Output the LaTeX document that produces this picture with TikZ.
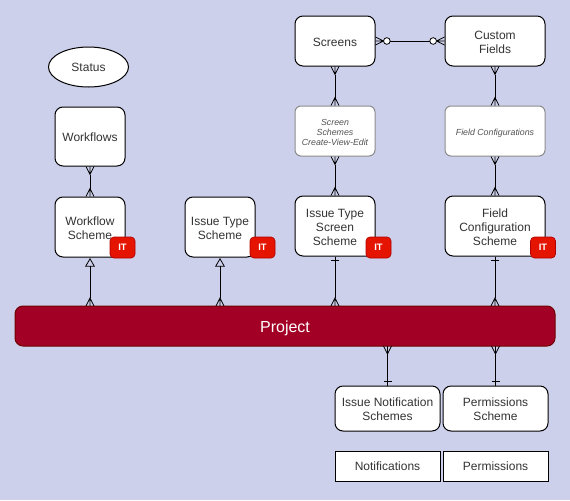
\documentclass[tikz,border=0pt]{standalone}
\usepackage{fontspec}
\setmainfont{Liberation Sans}
\usetikzlibrary{arrows.meta,shapes.geometric}
\definecolor{bgc}{HTML}{CCD0EB}
\definecolor{itred}{HTML}{E51400}
\definecolor{itedge}{HTML}{B20000}
\definecolor{prj}{HTML}{A20025}
\definecolor{prjedge}{HTML}{6F0000}
\definecolor{txt}{HTML}{333333}
\pgfdeclarearrow{
  name=crowf,
  setup code={\pgfarrowssettipend{0pt}\pgfarrowssetbackend{-6pt}\pgfarrowssetlineend{-6pt}\pgfarrowshullpoint{0pt}{3pt}\pgfarrowshullpoint{0pt}{-3pt}},
  drawing code={\pgfsetdash{}{0pt}\pgfsetlinewidth{0.6pt}
    \pgfpathmoveto{\pgfpoint{0pt}{3pt}}\pgfpathlineto{\pgfpoint{-6pt}{0pt}}\pgfpathlineto{\pgfpoint{0pt}{-3pt}}
    \pgfpathmoveto{\pgfpoint{0pt}{0pt}}\pgfpathlineto{\pgfpoint{-6pt}{0pt}}\pgfusepathqstroke},
  defaults={}
}
\pgfdeclarearrow{
  name=tria,
  setup code={\pgfarrowssettipend{0pt}\pgfarrowssetbackend{-6pt}\pgfarrowssetlineend{-6pt}\pgfarrowshullpoint{0pt}{0pt}\pgfarrowshullpoint{-6pt}{3.75pt}\pgfarrowshullpoint{-6pt}{-3.75pt}},
  drawing code={\pgfsetdash{}{0pt}\pgfsetlinewidth{0.6pt}
    \pgfpathmoveto{\pgfpoint{-1pt}{0pt}}\pgfpathlineto{\pgfpoint{-6.5pt}{3.2pt}}\pgfpathlineto{\pgfpoint{-6.5pt}{-3.2pt}}\pgfpathclose\pgfusepathqstroke},
  defaults={}
}
\pgfdeclarearrow{
  name=onebar,
  setup code={\pgfarrowssettipend{0pt}\pgfarrowssetbackend{-5pt}\pgfarrowssetlineend{0pt}\pgfarrowshullpoint{0pt}{0pt}\pgfarrowshullpoint{-5pt}{3pt}\pgfarrowshullpoint{-5pt}{-3pt}},
  drawing code={\pgfsetdash{}{0pt}\pgfsetlinewidth{0.6pt}
    \pgfpathmoveto{\pgfpoint{-3pt}{3pt}}\pgfpathlineto{\pgfpoint{-3pt}{-3pt}}\pgfusepathqstroke},
  defaults={}
}
\pgfdeclarearrow{
  name=zcrow,
  setup code={\pgfarrowssettipend{0pt}\pgfarrowssetbackend{-11pt}\pgfarrowssetlineend{-11pt}\pgfarrowshullpoint{0pt}{3pt}\pgfarrowshullpoint{0pt}{-3pt}\pgfarrowshullpoint{-11pt}{3pt}\pgfarrowshullpoint{-11pt}{-3pt}},
  drawing code={\pgfsetdash{}{0pt}\pgfsetlinewidth{0.6pt}
    \pgfpathmoveto{\pgfpoint{0pt}{3pt}}\pgfpathlineto{\pgfpoint{-6pt}{0pt}}\pgfpathlineto{\pgfpoint{0pt}{-3pt}}
    \pgfpathmoveto{\pgfpoint{0pt}{0pt}}\pgfpathlineto{\pgfpoint{-6pt}{0pt}}\pgfusepathqstroke
    \pgfsetfillcolor{white}\pgfpathcircle{\pgfpoint{-8.5pt}{0pt}}{2.5pt}\pgfusepathqfillstroke},
  defaults={}
}
\tikzset{
  x=0.75pt,y=-0.75pt,
  boxs/.style={draw=black,fill=white,rounded corners=6pt,line width=0.75pt,inner sep=0pt,font=\def\drp{-2pt}\fontsize{9}{10.5}\selectfont,text=txt},
  ghost/.style={boxs,draw=gray!90,rounded corners=4.5pt,font=\def\drp{-1.5pt}\fontsize{6.6}{7.5}\selectfont\itshape,text=txt!85},
  square/.style={boxs,rounded corners=0pt,font=\def\drp{-1.5pt}\fontsize{9}{10.5}\selectfont},
  itbadge/.style={draw=itedge,fill=itred,rounded corners=3pt,line width=0.5pt,minimum width=18.75pt,minimum height=15.75pt,inner sep=0pt,text=white,font=\fontsize{7}{8}\selectfont\bfseries},
  link/.style={line width=0.75pt,black},
}
\newcommand{\bx}[7][boxs]{\node[#1,minimum width=#5*0.75pt-#3*0.75pt,minimum height=#6*0.75pt-#4*0.75pt] (#2) at ({(#3+#5)/2},{(#4+#6)/2}) {\raisebox{\drp}[\height][\depth]{\begin{tabular}{@{}c@{}}#7\end{tabular}}};}
\begin{document}
\begin{tikzpicture}
\useasboundingbox[fill=bgc] (0,0) rectangle (570,500);
\node[draw=black,fill=white,ellipse,line width=0.75pt,minimum width=60pt,minimum height=30pt,inner sep=0pt,font=\fontsize{9}{10.5}\selectfont,text=txt] (status) at (88.5,67) {Status};
\bx{wf}{55}{107}{125}{166}{Workflows}
\bx{wfs}{55}{197}{125}{257}{Workflow\\Scheme}
\bx{its}{185}{197}{255}{257}{Issue Type\\Scheme}
\bx{scr}{295}{16}{375}{66}{Screens}
\bx{cf}{445}{16}{545}{66}{Custom\\Fields}
\bx[ghost]{ss}{295}{106}{375}{156}{Screen\\Schemes\\Create-View-Edit}
\bx[ghost]{fc}{445}{106}{545}{156}{Field Configurations}
\bx{itss}{295}{196}{375}{256}{Issue Type\\Screen\\Scheme}
\bx{fcs}{445}{196}{545}{256}{Field\\Configuration\\Scheme}
\bx[boxs,draw=prjedge,fill=prj,text=white,font=\def\drp{-2pt}\fontsize{12}{14}\selectfont]{prj}{15}{306}{555}{346}{Project}
\bx{ins}{335}{386}{440}{431}{Issue Notification\\Schemes}
\bx{ps}{443}{386}{548}{431}{Permissions\\Scheme}
\bx[square]{nt}{335}{451}{440}{481}{Notifications}
\bx[square]{pm}{443}{451}{548}{481}{Permissions}
\node[itbadge] (b1) at (122.5,247.5) {IT};
\node[itbadge] (b2) at (262.5,247.5) {IT};
\node[itbadge] (b3) at (378.5,247.5) {IT};
\node[itbadge] (b4) at (543,247.5) {IT};
\coordinate (p1) at (90,306);
\coordinate (p2) at (220,306);
\coordinate (p3) at (335,306);
\coordinate (p4) at (495,306);
\coordinate (p5) at (387.5,346);
\coordinate (p6) at (495.5,346);
\draw[link,{crowf}-{crowf}] (wf.south) -- (wfs.north);
\draw[link,{tria}-{crowf}] (wfs.south) -- (p1);
\draw[link,{tria}-{crowf}] (its.south) -- (p2);
\draw[link,{crowf}-{crowf}] (scr.south) -- (ss.north);
\draw[link,{crowf}-{crowf}] (ss.south) -- (itss.north);
\draw[link,{crowf}-{crowf}] (cf.south) -- (fc.north);
\draw[link,{crowf}-{crowf}] (fc.south) -- (fcs.north);
\draw[link,{onebar}-{crowf}] (itss.south) -- (p3);
\draw[link,{onebar}-{crowf}] (fcs.south) -- (p4);
\draw[link,{crowf}-{onebar}] (p5) -- (ins.north);
\draw[link,{crowf}-{onebar}] (p6) -- (ps.north);
\draw[link,{zcrow}-{zcrow}] (scr.east) -- (cf.west);
\end{tikzpicture}
\end{document}
